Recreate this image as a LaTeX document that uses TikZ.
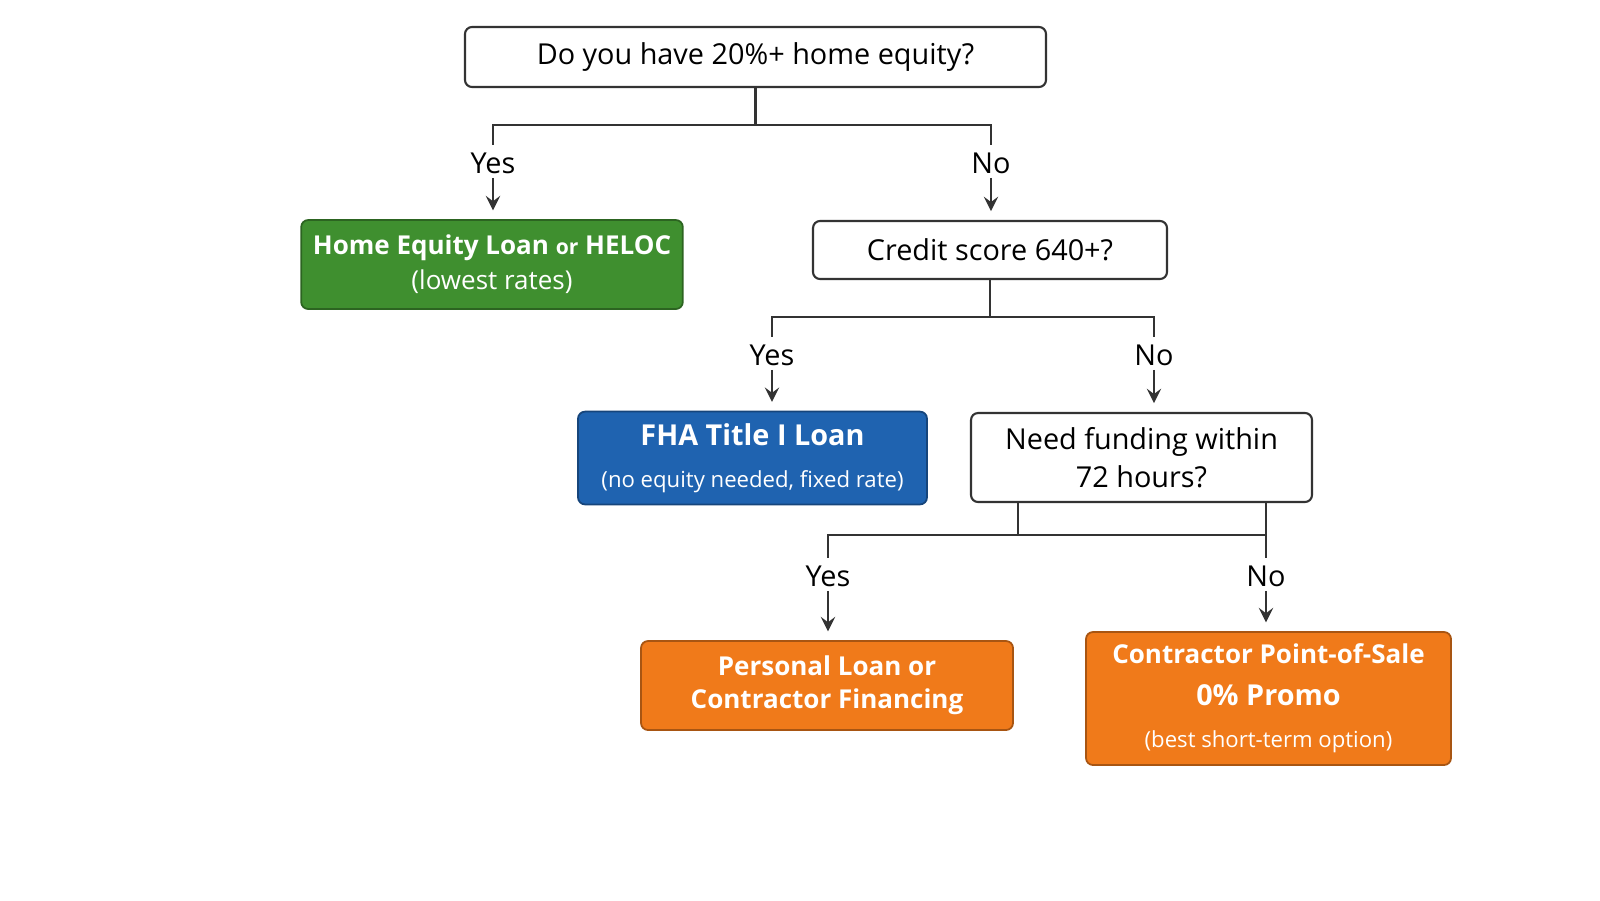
\documentclass[tikz,border=0pt]{standalone}
\usepackage{fontspec}
\setmainfont{Open Sans}
\usetikzlibrary{positioning}
\definecolor{eqgreen}{HTML}{3F8F2F}
\definecolor{fhablue}{HTML}{1F63B0}
\definecolor{poporange}{HTML}{F07A1A}
\definecolor{lineg}{HTML}{333333}
\tikzset{
    question/.style={draw=lineg,fill=white,rounded corners=2pt,line width=0.6pt,align=center,font=\fontsize{8.2}{10}\selectfont},
    answer/.style={draw=#1!70!black,fill=#1,rounded corners=2pt,line width=0.5pt,align=center,text=white},
    branch/.style={draw=lineg,line width=0.8pt},
    lbl/.style={font=\fontsize{8.2}{10}\selectfont,text=black,inner sep=1pt},
    arr/.style={draw=lineg,line width=0.8pt,-stealth,shorten >=2.5pt}
}
\begin{document}
\begin{tikzpicture}
        %Frame
            \useasboundingbox (0,0) rectangle (16,-9);
        %Questions
            \node[question,minimum width=5.81cm,minimum height=0.6cm] (equity) at (7.555,-0.57) {Do you have 20\%+ home equity?};
            \node[question,minimum width=3.54cm,minimum height=0.58cm] (credit) at (9.9,-2.5) {Credit score 640+?};
            \node[question,minimum width=3.41cm,minimum height=0.89cm] (speed) at (11.415,-4.575) {Need funding within\\[1pt]72 hours?};
        %Answers
            \node[answer=eqgreen,minimum width=3.68cm,minimum height=0.89cm,font=\fontsize{7.4}{10}\selectfont] (heloc) at (4.92,-2.645) {\textbf{Home Equity Loan} {\fontsize{6}{8}\selectfont\textbf{or}} \textbf{HELOC}\\(lowest rates)};
            \node[answer=fhablue,minimum width=3.49cm,minimum height=0.9cm] (fha) at (7.525,-4.58) {{\fontsize{8.2}{10}\selectfont\textbf{FHA Title I Loan}}\\{\fontsize{6.3}{9}\selectfont(no equity needed, fixed rate)}};
            \node[answer=poporange,minimum width=3.72cm,minimum height=0.89cm,font=\fontsize{7.4}{9.5}\selectfont\bfseries] (personal) at (8.27,-6.855) {Personal Loan or\\Contractor Financing};
            \node[answer=poporange,minimum width=3.65cm,minimum height=1.15cm] (promo) at (12.685,-6.985) {{\fontsize{7.4}{9}\selectfont\textbf{Contractor Point-of-Sale}}\\{\fontsize{8.2}{9}\selectfont\textbf{0\% Promo}}\\{\fontsize{6.3}{8.5}\selectfont(best short-term option)}};
        %Branches from equity
            \coordinate (eqY) at (4.93,-1.45);
            \coordinate (eqN) at (9.91,-1.45);
            \draw[branch] (equity.south) -- ++(0,-0.37) -| (eqY);
            \draw[branch] (equity.south) ++(0,-0.37) -| (eqN);
            \node[lbl,below=1pt of eqY] (eqyes) {Yes};
            \node[lbl,below=1pt of eqN] (eqno) {No};
            \draw[arr] (eqyes.south) -- (eqyes.south |- heloc.north);
            \draw[arr] (eqno.south) -- (eqno.south |- credit.north);
        %Branches from credit
            \coordinate (crY) at (7.72,-3.37);
            \coordinate (crN) at (11.54,-3.37);
            \draw[branch] (credit.south) -- ++(0,-0.37) -| (crY);
            \draw[branch] (credit.south) ++(0,-0.37) -| (crN);
            \node[lbl,below=1pt of crY] (cryes) {Yes};
            \node[lbl,below=1pt of crN] (crno) {No};
            \draw[arr] (cryes.south) -- (cryes.south |- fha.north);
            \draw[arr] (crno.south) -- (crno.south |- speed.north);
        %Branches from speed
            \coordinate (spY) at (8.28,-5.58);
            \coordinate (spN) at (12.66,-5.58);
            \draw[branch] (10.18,-5.02) -- (10.18,-5.35);
            \draw[branch] (12.66,-5.02) -- (spN);
            \draw[branch] (12.66,-5.35) -| (spY);
            \node[lbl,below=1pt of spY] (spyes) {Yes};
            \node[lbl,below=1pt of spN] (spno) {No};
            \draw[arr] (spyes.south) -- (spyes.south |- personal.north);
            \draw[arr] (spno.south) -- (spno.south |- promo.north);
    \end{tikzpicture}
\end{document}
